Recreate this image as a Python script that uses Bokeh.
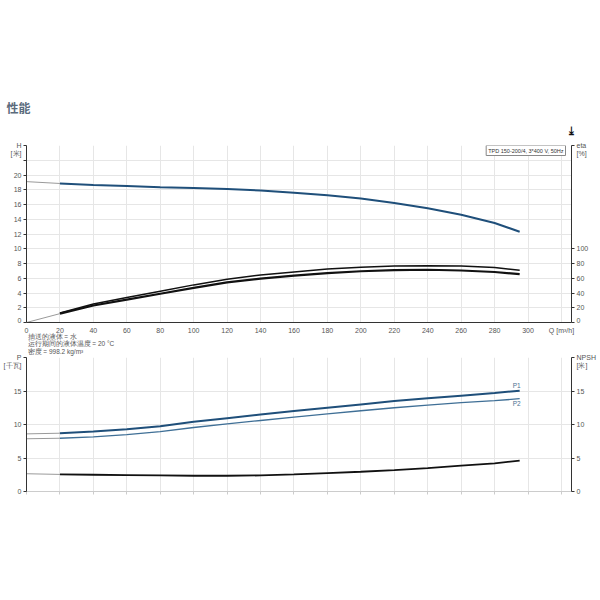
from bokeh.plotting import figure
from bokeh.models import Range1d, LinearAxis, FixedTicker, Label, Title
from bokeh.layouts import column
from bokeh.embed import file_html
from bokeh.resources import INLINE

# ---- data ----
Q = [20, 40, 60, 80, 100, 120, 140, 160, 180, 200, 220, 240, 260, 280, 295]
H = [18.85, 18.65, 18.5, 18.35, 18.25, 18.1, 17.9, 17.6, 17.25, 16.8, 16.2, 15.5, 14.6, 13.5, 12.3]
ETA_PUMP = [13, 25, 34, 42.5, 51, 58.5, 64.5, 68.5, 72.5, 75, 76.5, 77, 76.5, 74.5, 71]
ETA_TOTAL = [12, 23, 31, 39, 47, 54.5, 59.5, 63.5, 67, 69.5, 71, 71.5, 70.5, 68.5, 65.5]
P1 = [8.7, 8.95, 9.3, 9.75, 10.4, 10.95, 11.5, 12.0, 12.5, 13.0, 13.5, 13.9, 14.3, 14.7, 15.05]
P2 = [7.95, 8.15, 8.5, 8.95, 9.55, 10.1, 10.6, 11.1, 11.6, 12.05, 12.5, 12.9, 13.25, 13.55, 13.85]
NPSH = [2.55, 2.5, 2.45, 2.4, 2.35, 2.35, 2.4, 2.55, 2.75, 2.95, 3.2, 3.5, 3.85, 4.2, 4.6]

Q_START = 0
H_START = 19.1
ETA_START = 0
P1_START = 8.6
P2_START = 7.87
NPSH_START = 2.65

Q_TICKS = list(range(0, 321, 20))
H_TICKS = list(range(0, 25, 2))
ETA_TICKS = list(range(0, 101, 20)) + [240]
P_TICKS = [0, 5, 10, 15, 20]
NPSH_TICKS = [0, 5, 10, 15, 20]

TITLE = "性能"
PUMP_NAME = "TPD 150-200/4, 3*400 V, 50Hz"
NOTES = ["抽送的液体 = 水", "运行期间的液体温度 = 20 °C", "密度 = 998.2 kg/m³"]

FONT = "Liberation Sans"
CJK = "Noto Sans CJK SC"
TXT = "#555555"
GRID = "#e6e6e6"
AXIS = "#333333"
BLUE = "#1f4f7a"
BLUE2 = "#3f6f96"
EXT = "#9a9a9a"

XR = Range1d(0, 326)


def style_axis(ax, ticks, overrides=None, line_color=AXIS, show_labels=True,
               tick_out=3, standoff=2):
    ax.ticker = FixedTicker(ticks=ticks)
    ax.axis_line_color = line_color
    ax.major_tick_line_color = line_color
    ax.minor_tick_line_color = None
    ax.major_tick_in = 0
    ax.major_tick_out = tick_out
    ax.major_label_standoff = standoff
    ax.major_label_text_font = FONT
    ax.major_label_text_font_size = "7px" if show_labels else "0px"
    ax.major_label_text_color = TXT if show_labels else None
    if overrides:
        ax.major_label_overrides = overrides


def add_title(p, text, align, offset, standoff, size, color=TXT, style="normal",
              font=CJK, line_height=1.0):
    p.add_layout(Title(text=text, align=align, offset=offset, standoff=standoff,
                       text_font_size=size, text_color=color, text_font=font,
                       text_font_style=style, text_line_height=line_height), "above")


# ---- top chart: H and eta ----
p1 = figure(width=598, height=323, x_range=XR, y_range=Range1d(0, 24),
            output_backend="svg", toolbar_location=None,
            min_border_left=26, min_border_right=26,
            min_border_top=145, min_border_bottom=1)
p1.outline_line_color = None
p1.extra_y_ranges = {"eta": Range1d(0, 240)}
p1.xgrid.ticker = FixedTicker(ticks=Q_TICKS)
p1.ygrid.ticker = FixedTicker(ticks=H_TICKS)
p1.xgrid.grid_line_color = GRID
p1.ygrid.grid_line_color = GRID

# Q tick labels of the upper chart are drawn by the lower chart's top axis
style_axis(p1.xaxis[0], Q_TICKS, show_labels=False, tick_out=0, standoff=0)
style_axis(p1.yaxis[0], H_TICKS, {22: "", 24: " \nH\n[米]"})
ax_eta = LinearAxis(y_range_name="eta")
style_axis(ax_eta, ETA_TICKS, {240: " \neta\n[%]"})
p1.add_layout(ax_eta, "right")

# extensions to Q = 0
p1.line([Q_START, Q[0]], [H_START, H[0]], line_color=EXT, line_width=1)
p1.line([Q_START, Q[0]], [ETA_START, ETA_TOTAL[0]], line_color=EXT, line_width=1,
        y_range_name="eta")
p1.line(Q, H, line_color=BLUE, line_width=2)
p1.line(Q, ETA_PUMP, line_color="#111111", line_width=1.5, y_range_name="eta")
p1.line(Q, ETA_TOTAL, line_color="#111111", line_width=2.2, y_range_name="eta")

p1.add_layout(Label(x=326, y=24, x_offset=-6, y_offset=0, text=PUMP_NAME,
                    text_align="right", text_baseline="top", text_font_size="5.5px",
                    text_font=FONT, text_color="#333333",
                    border_line_color="#888888", border_line_width=1,
                    background_fill_color="white", padding=2))

# titles above the frame: closest to the frame first
add_title(p1, "⤓", "right", -2, 17, "11px", color="#111111", style="bold",
          font="DejaVu Sans")
add_title(p1, TITLE, "left", -20, -5, "12px", color="#5b6b7c", style="bold")

# ---- bottom chart: P1, P2, NPSH ----
p2 = figure(width=598, height=183, x_range=XR, y_range=Range1d(0, 20),
            output_backend="svg", toolbar_location=None,
            min_border_left=26, min_border_right=26,
            min_border_top=34, min_border_bottom=15)
p2.outline_line_color = None
p2.extra_y_ranges = {"npsh": Range1d(0, 20)}
p2.xgrid.ticker = FixedTicker(ticks=Q_TICKS)
p2.ygrid.ticker = FixedTicker(ticks=P_TICKS)
p2.xgrid.grid_line_color = GRID
p2.ygrid.grid_line_color = GRID

style_axis(p2.xaxis[0], Q_TICKS, line_color="#cccccc", show_labels=False)
style_axis(p2.yaxis[0], P_TICKS, {20: " \nP\n[千瓦]"})
ax_npsh = LinearAxis(y_range_name="npsh")
style_axis(ax_npsh, NPSH_TICKS, {20: " \nNPSH\n[米]"})
p2.add_layout(ax_npsh, "right")

p2.line([Q_START, Q[0]], [P1_START, P1[0]], line_color=EXT, line_width=1)
p2.line([Q_START, Q[0]], [P2_START, P2[0]], line_color=EXT, line_width=1)
p2.line([Q_START, Q[0]], [NPSH_START, NPSH[0]], line_color=EXT, line_width=1,
        y_range_name="npsh")
p2.line(Q, P1, line_color=BLUE, line_width=2)
p2.line(Q, P2, line_color=BLUE2, line_width=1.3)
p2.line(Q, NPSH, line_color="#111111", line_width=1.8, y_range_name="npsh")

p2.add_layout(Label(x=Q[-1], y=P1[-1], x_offset=-3, y_offset=5, text="P1",
                    text_align="center", text_baseline="middle",
                    text_font_size="6.5px", text_font=FONT, text_color="#4a6f90"))
p2.add_layout(Label(x=Q[-1], y=P2[-1], x_offset=-3, y_offset=-5, text="P2",
                    text_align="center", text_baseline="middle",
                    text_font_size="6.5px", text_font=FONT, text_color="#4a6f90"))

# notes above the lower frame (closest to frame), then the Q tick labels above them
add_title(p2, "\n".join(NOTES), "left", 1, 5, "6.5px", font=FONT, line_height=1.1)
ax_q = LinearAxis()
style_axis(ax_q, Q_TICKS, {320: "Q [m³/h]"}, line_color=None, tick_out=0, standoff=-5)
ax_q.major_tick_line_color = None
p2.add_layout(ax_q, "above")

layout = column(p1, p2, spacing=0)
open("out.html", "w").write(file_html(layout, INLINE))
